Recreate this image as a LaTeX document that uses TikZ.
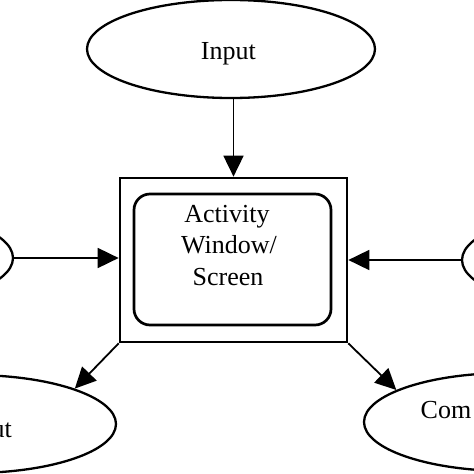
\documentclass[tikz,border=0pt]{standalone}
\usepackage{fontspec}
\setmainfont{Liberation Serif}
\usetikzlibrary{shapes.geometric,arrows.meta}
\begin{document}
\begin{tikzpicture}[x=1pt,y=-1pt,
  oval/.style={draw,ellipse,line width=2.3pt,minimum width=288pt,minimum height=98pt,inner sep=0pt},
  lbl/.style={font=\fontsize{26}{31}\selectfont,inner sep=0pt,anchor=base},
  arr/.style={line width=1.8pt,-{Triangle[length=21pt,width=20pt]}},
  boxst/.style={draw,line width=2.7pt,inner sep=0pt},
]
\useasboundingbox (0,0) rectangle (474,474);
\clip (0,0) rectangle (474,474);
% ellipses
\node[oval] (inp) at (231,49) {};
\node[oval] (lft) at (-131,258) {};
\node[oval] (rgt) at (606,260) {};
\node[oval] (outp) at (-28,424) {};
\node[oval] (comp) at (508,422) {};
% texts in ellipses
\node[lbl] (inptxt) at (228.4,59) {Input};
\node[lbl,anchor=base east] (outtxt) at (12,437) {Output};
\node[lbl,anchor=base west] (comtxt) at (420.5,418) {Com};
% central box
\node[boxst,minimum width=227pt,minimum height=164pt] (box) at (233.5,260) {};
\node[boxst,rounded corners=16pt,minimum width=197pt,minimum height=131pt] (win) at (232.5,259.5) {};
\node[lbl] (act1) at (227,222.7) {Activity};
\node[lbl] (act2) at (229,253) {Window/};
\node[lbl] (act3) at (228,285) {Screen};
% connectors
\draw[arr] (inp.south -| box.north) -- (box.north);
\draw[arr] (lft.east) -- (box.west |- lft.east);
\draw[arr] (rgt.west) -- (box.east |- rgt.west);
\draw[arr] (box.south west) -- (outp.19);
\draw[arr] (box.south east) -- (comp.164);
\end{tikzpicture}
\end{document}
